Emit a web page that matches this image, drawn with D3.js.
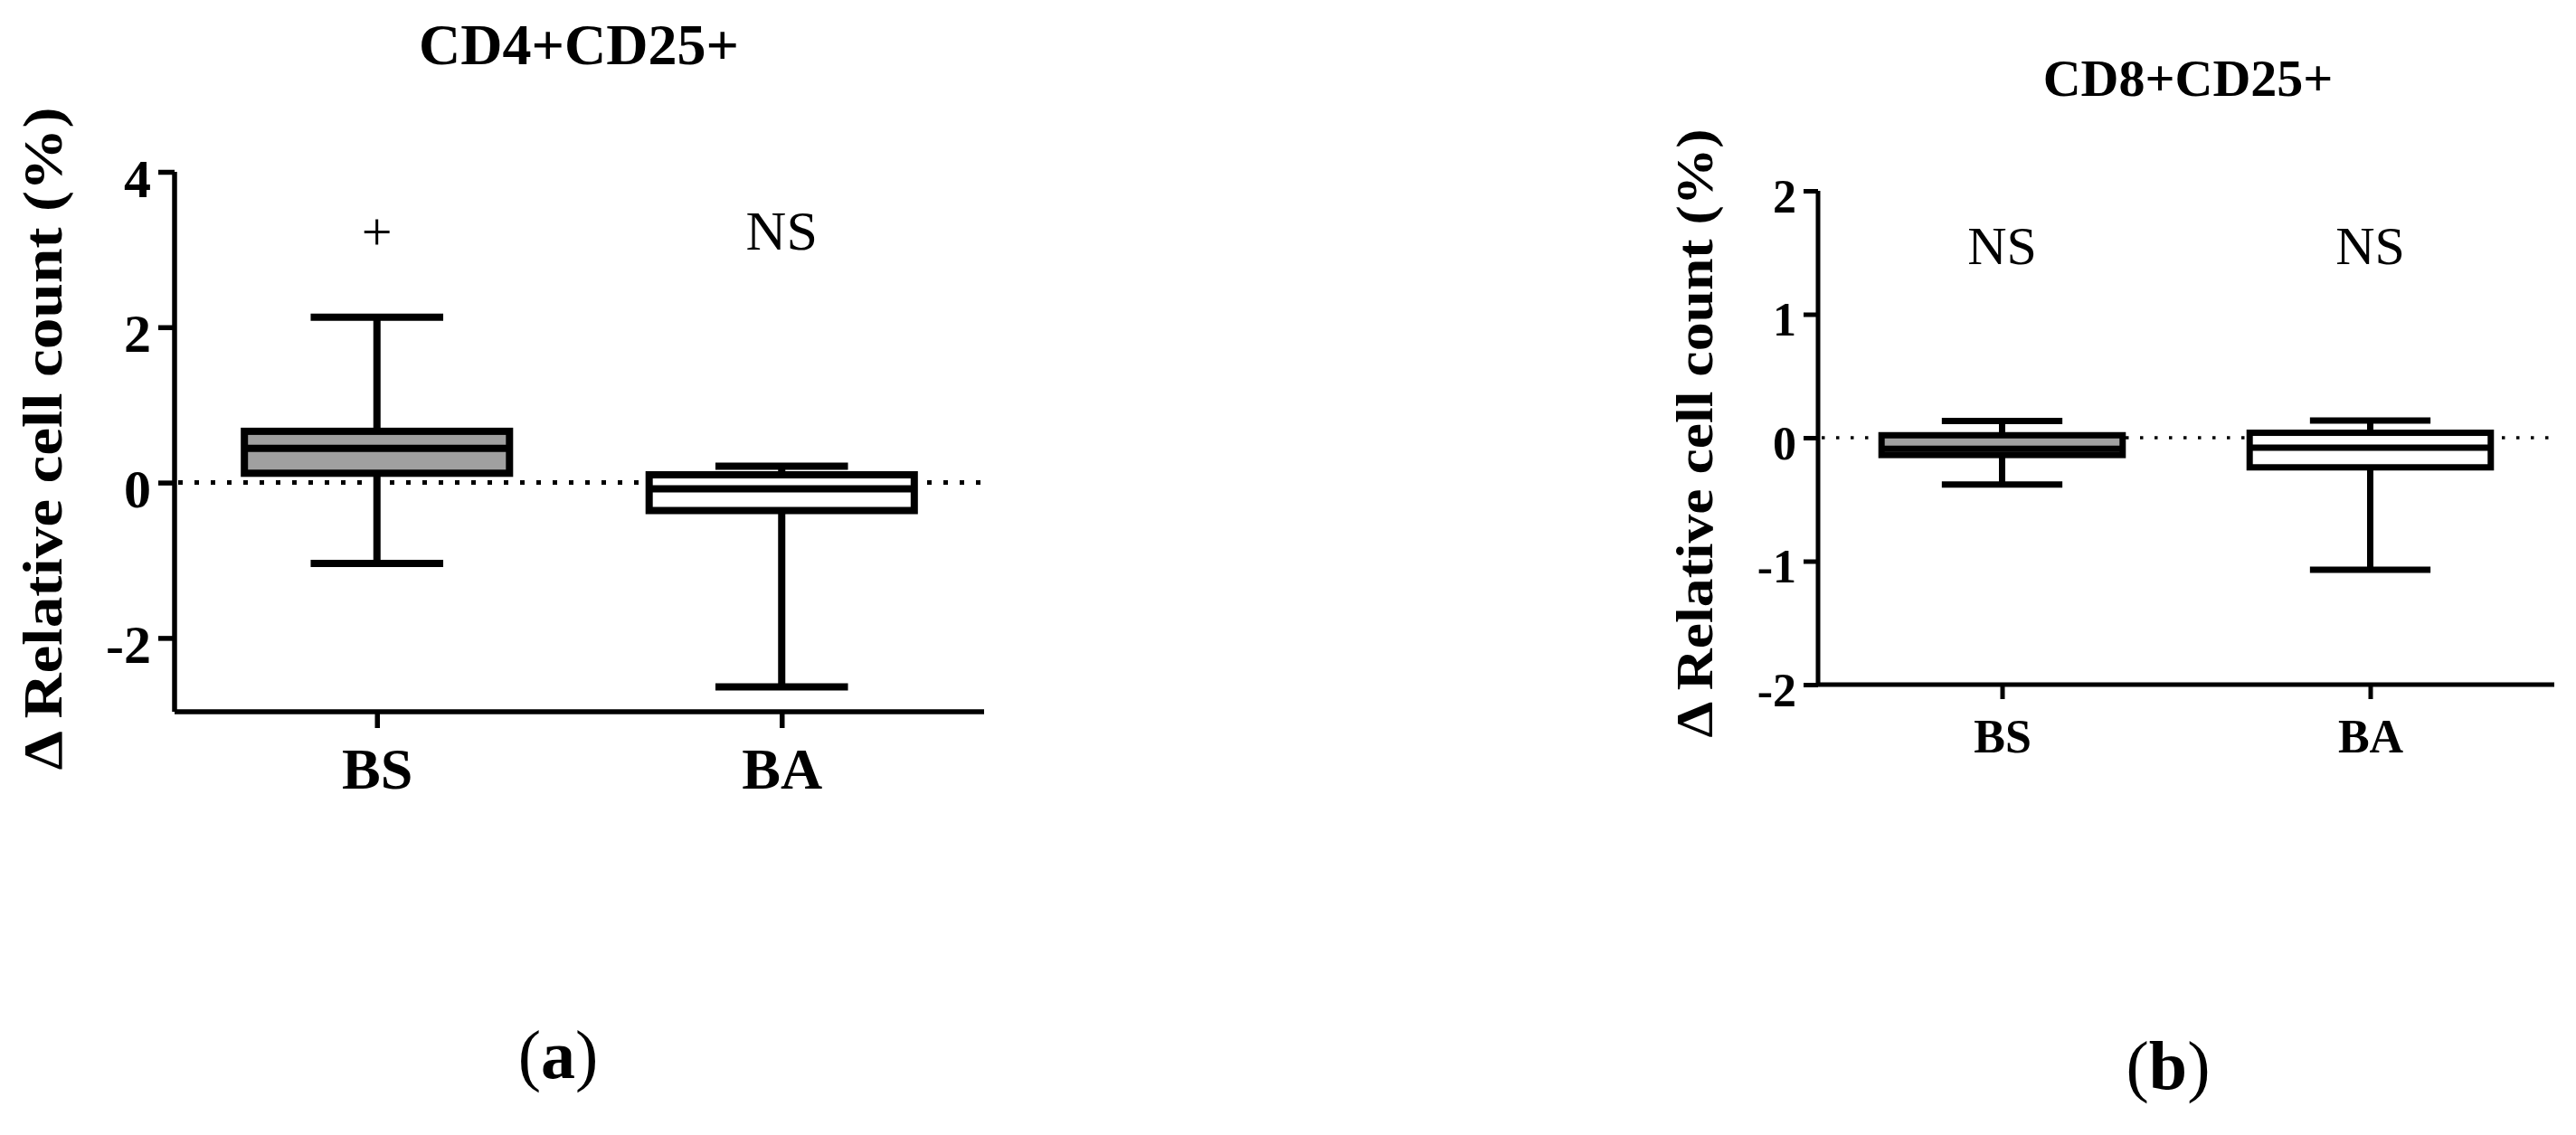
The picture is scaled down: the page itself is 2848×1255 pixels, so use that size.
<!DOCTYPE html>
<html>
<head>
<meta charset="utf-8">
<script src="https://cdn.jsdelivr.net/npm/d3@7"></script>
<style>
  html, body { margin: 0; padding: 0; background: #fff; }
  svg { display: block; }
  text { font-family: "Liberation Serif", "Times New Roman", serif; fill: #000; }
</style>
</head>
<body>
<script>
// ---------------- DATA ----------------
const categories = ["BS", "BA"];

// Panel (a) CD4+CD25+
const cd4WhiskerLow  = [-1.04, -2.63];
const cd4Q1          = [ 0.12, -0.36];
const cd4Median      = [ 0.44, -0.08];
const cd4Q3          = [ 0.66,  0.10];
const cd4WhiskerHigh = [ 2.13,  0.21];
const cd4Annotations = ["+", "NS"];
const cd4Ticks       = [-2, 0, 2, 4];

// Panel (b) CD8+CD25+
const cd8WhiskerLow  = [-0.38, -1.07];
const cd8Q1          = [-0.14, -0.24];
const cd8Median      = [-0.09, -0.08];
const cd8Q3          = [ 0.02,  0.04];
const cd8WhiskerHigh = [ 0.135, 0.14];
const cd8Annotations = ["NS", "NS"];
const cd8Ticks       = [-2, -1, 0, 1, 2];

const boxFills = ["#a0a0a0", "#ffffff"];
const yLabel = "\u0394 Relative cell count (%)";

// ---------------- DRAW ----------------
const W = 2848, H = 1255;
const svg = d3.select("body").append("svg").attr("width", W).attr("height", H);

function drawPanel(cfg) {
  const g = svg.append("g");
  const x = d3.scalePoint().domain(categories).range([cfg.x0, cfg.x1]).padding(0.5);
  const step = x.step();
  const boxW = step * 0.655;
  const capW = boxW / 2;
  const y = d3.scaleLinear().domain(cfg.yDomain).range([cfg.yBottom, cfg.yTop]);

  const rows = categories.map((c, i) => ({
    cat: c, lo: cfg.lo[i], q1: cfg.q1[i], med: cfg.med[i], q3: cfg.q3[i], hi: cfg.hi[i],
    fill: boxFills[i], ann: cfg.ann[i]
  }));

  // zero dotted reference line
  g.append("line")
    .attr("x1", cfg.x0 + 4).attr("x2", cfg.x1)
    .attr("y1", y(0)).attr("y2", y(0))
    .attr("stroke", "#000").attr("stroke-width", cfg.dotW)
    .attr("stroke-dasharray", cfg.dash);

  // whiskers
  const bx = g.selectAll(".bx").data(rows).enter().append("g");
  bx.append("line")
    .attr("x1", d => x(d.cat)).attr("x2", d => x(d.cat))
    .attr("y1", d => y(d.hi)).attr("y2", d => y(d.lo))
    .attr("stroke", "#000").attr("stroke-width", cfg.sw);
  bx.append("line")
    .attr("x1", d => x(d.cat) - capW / 2).attr("x2", d => x(d.cat) + capW / 2)
    .attr("y1", d => y(d.hi)).attr("y2", d => y(d.hi))
    .attr("stroke", "#000").attr("stroke-width", cfg.sw);
  bx.append("line")
    .attr("x1", d => x(d.cat) - capW / 2).attr("x2", d => x(d.cat) + capW / 2)
    .attr("y1", d => y(d.lo)).attr("y2", d => y(d.lo))
    .attr("stroke", "#000").attr("stroke-width", cfg.sw);
  // boxes
  bx.append("rect")
    .attr("x", d => x(d.cat) - boxW / 2).attr("width", boxW)
    .attr("y", d => y(d.q3)).attr("height", d => y(d.q1) - y(d.q3))
    .attr("fill", d => d.fill)
    .attr("stroke", "#000").attr("stroke-width", cfg.sw);
  bx.append("line")
    .attr("x1", d => x(d.cat) - boxW / 2).attr("x2", d => x(d.cat) + boxW / 2)
    .attr("y1", d => y(d.med)).attr("y2", d => y(d.med))
    .attr("stroke", "#000").attr("stroke-width", cfg.sw);
  // annotations
  bx.append("text")
    .attr("x", d => x(d.cat)).attr("y", y(cfg.annY))
    .attr("text-anchor", "middle")
    .style("font-size", d => (d.ann === "+" ? cfg.plusSize : cfg.annSize) + "px")
    .text(d => d.ann);

  // y axis (hyphen-minus labels as in the original)
  const ya = g.append("g").attr("transform", `translate(${cfg.x0},0)`)
    .call(d3.axisLeft(y).tickValues(cfg.ticks).tickFormat(d => String(d))
      .tickSize(cfg.tickLen).tickPadding(cfg.tickPad).tickSizeOuter(0));
  ya.select(".domain").attr("stroke-width", cfg.axW).attr("d", `M0,${cfg.yTop}V${cfg.yBottom}`);
  ya.selectAll(".tick line").attr("stroke-width", cfg.axW);
  ya.selectAll(".tick text")
    .attr("dy", "0.45em")
    .style("font-family", '"Liberation Serif", serif')
    .style("font-weight", "bold").style("font-size", cfg.tickSize + "px");

  // x axis
  const xa = g.append("g").attr("transform", `translate(0,${cfg.yBottom})`)
    .call(d3.axisBottom(x).tickSize(cfg.tickLen).tickPadding(cfg.xPad).tickSizeOuter(0));
  xa.select(".domain").attr("stroke-width", cfg.axW).attr("d", `M${cfg.x0},0H${cfg.x1}`);
  xa.selectAll(".tick line").attr("stroke-width", cfg.axW);
  xa.selectAll(".tick text")
    .attr("dy", "0.71em")
    .style("font-family", '"Liberation Serif", serif')
    .style("font-weight", "bold").style("font-size", cfg.xSize + "px");

  // y label
  g.append("text")
    .attr("transform", `translate(${cfg.ylabX},${cfg.ylabY}) rotate(-90)`)
    .attr("text-anchor", "middle")
    .attr("textLength", cfg.ylabLen).attr("lengthAdjust", "spacingAndGlyphs")
    .style("font-weight", "bold").style("font-size", cfg.ylabSize + "px")
    .text(yLabel);

  // title
  g.append("text")
    .attr("x", cfg.titleX).attr("y", cfg.titleY)
    .attr("text-anchor", "middle")
    .style("font-weight", "bold").style("font-size", cfg.titleSize + "px")
    .text(cfg.title);

  // panel tag: "(a)" with bold letter
  const tag = g.append("text")
    .attr("x", cfg.tagX).attr("y", cfg.tagY)
    .attr("text-anchor", "middle")
    .style("font-size", cfg.tagSize + "px");
  tag.append("tspan").text("(");
  tag.append("tspan").style("font-weight", "bold").text(cfg.tag);
  tag.append("tspan").text(")");
}

drawPanel({
  title: "CD4+CD25+", tag: "a",
  lo: cd4WhiskerLow, q1: cd4Q1, med: cd4Median, q3: cd4Q3, hi: cd4WhiskerHigh,
  ann: cd4Annotations, ticks: cd4Ticks,
  x0: 193, x1: 1088, yDomain: [-2.95, 4], yBottom: 787, yTop: 190,
  sw: 8, axW: 5.5, dotW: 5, dash: "5,13",
  tickLen: 18, tickPad: 8, tickSize: 60, xPad: 22, xSize: 64,
  annY: 3.0, annSize: 62, plusSize: 60,
  ylabX: 68, ylabY: 485, ylabLen: 733, ylabSize: 62,
  titleX: 640, titleY: 71, titleSize: 64,
  tagX: 617, tagY: 1192, tagSize: 76
});

drawPanel({
  title: "CD8+CD25+", tag: "b",
  lo: cd8WhiskerLow, q1: cd8Q1, med: cd8Median, q3: cd8Q3, hi: cd8WhiskerHigh,
  ann: cd8Annotations, ticks: cd8Ticks,
  x0: 2010, x1: 2824, yDomain: [-2, 2], yBottom: 757, yTop: 211,
  sw: 7, axW: 5, dotW: 3.5, dash: "3.5,12.5",
  tickLen: 16, tickPad: 8, tickSize: 52, xPad: 22, xSize: 52,
  annY: 1.41, annSize: 60, plusSize: 60,
  ylabX: 1893, ylabY: 479, ylabLen: 673, ylabSize: 56,
  titleX: 2419, titleY: 106, titleSize: 58,
  tagX: 2397, tagY: 1204, tagSize: 76
});
</script>
</body>
</html>
